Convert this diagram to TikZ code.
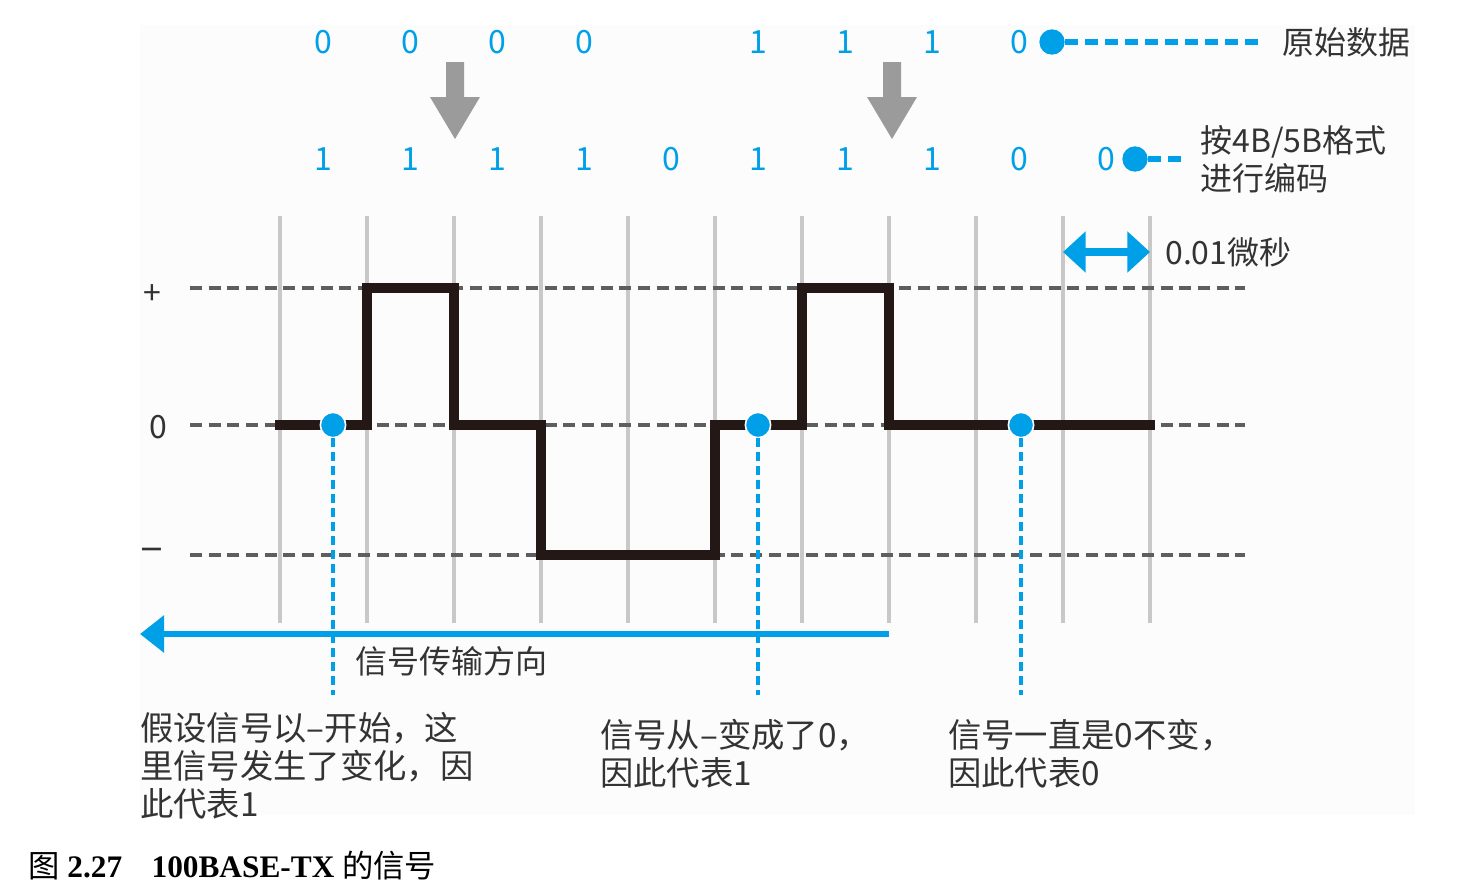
\documentclass[tikz,border=0pt]{standalone}
\usepackage{fontspec}
\setmainfont{Liberation Serif}
\newfontfamily\cjk{Noto Sans CJK SC}
\usetikzlibrary{arrows.meta}
\definecolor{sigblue}{HTML}{00A0E9}
\definecolor{gridgray}{HTML}{C8C8C8}
\definecolor{dashgray}{HTML}{5E5E5E}
\definecolor{arrowgray}{HTML}{9B9B9B}
\definecolor{sigblack}{HTML}{231815}
\definecolor{txt}{HTML}{333333}
\begin{document}
\begin{tikzpicture}[x=0.75pt,y=-0.75pt,
  digit/.style={font=\cjk\fontsize{24}{24}\selectfont, text=sigblue, inner sep=0},
  lbl/.style={font=\cjk\fontsize{24}{28.5}\selectfont, text=txt, inner sep=0, anchor=west, align=left},
  note/.style={font=\cjk\fontsize{25}{28.5}\selectfont, text=txt, inner sep=0, anchor=west, align=left},
  gridline/.style={gridgray, line width=2.6pt},
  levelline/.style={dashgray, line width=2.5pt, dash pattern=on 9pt off 5pt},
  signal/.style={sigblack, line width=7.8pt, miter limit=10},
  bdot/.style={circle, fill=sigblue, draw=white, line width=1.2pt, minimum size=19pt, inner sep=0},
  bdash/.style={sigblue, line width=3.6pt, dash pattern=on 6.5pt off 4pt},
  topdash/.style={sigblue, line width=4.8pt, dash pattern=on 9.5pt off 5.5pt},
  grayarrow/.style={fill=arrowgray}
]
\useasboundingbox (0,0) rectangle (1458,890);
\fill[black!1.2] (140,25) rectangle (1415,815);

% grid
\foreach \i in {0,...,10}
  \draw[gridline] ({280+87*\i},216) -- ({280+87*\i},623);
% level lines
\draw[levelline] (190,288) -- (1245,288);
\draw[levelline] (190,425) -- (1245,425);
\draw[levelline] (190,555) -- (1245,555);
\node[lbl, anchor=center] (lp) at (152,295) {+};
\node[lbl, anchor=center] (l0) at (158,427) {0};
\node[lbl, anchor=center, font=\cjk\fontsize{32}{32}\selectfont] (lm) at (152,555) {–};

% signal
\draw[signal] (275,425) -- (367,425) -- (367,288) -- (454,288) -- (454,425) -- (541,425)
  -- (541,555) -- (715,555) -- (715,425) -- (802,425) -- (802,288) -- (889,288)
  -- (889,425) -- (1155,425);

% top digits
\foreach \i/\d in {0/0,1/0,2/0,3/0,5/1,6/1,7/1,8/0}
  \node[digit] (o\i) at ({323.5+87*\i},42) {\d};
\foreach \i/\d in {0/1,1/1,2/1,3/1,4/0,5/1,6/1,7/1,8/0,9/0}
  \node[digit] (e\i) at ({323.5+87*\i},159) {\d};

\node[bdot, draw=none] (odot) at (1052,42) {};
\coordinate (oend) at (1265,42);
\draw[topdash] (odot.east) -- (oend);
\node[lbl] (otxt) at (1282,42) {原始数据};

\node[bdot, draw=none] (edot) at (1135,159) {};
\coordinate (eend) at (1186,159);
\draw[topdash] (edot.east) -- (eend);
\node[lbl] (etxt) at (1200,159) {按4B/5B格式\\进行编码};

% gray arrows
\fill[grayarrow] (446,62) -- (464,62) -- (464,97) -- (480,97) -- (455,139) -- (430,97) -- (446,97) -- cycle;
\fill[grayarrow] (883,62) -- (901,62) -- (901,97) -- (917,97) -- (892,139) -- (867,97) -- (883,97) -- cycle;

% time unit
\coordinate (tL) at (1063,252);
\coordinate (tR) at (1150,252);
\draw[sigblue, line width=6pt, {Triangle[length=17pt,width=30pt]}-{Triangle[length=17pt,width=30pt]}] (tL) -- (tR);
\node[lbl] (ttxt) at (1165,252) {0.01微秒};

% direction arrow
\coordinate (aS) at (889,634);
\coordinate (aE) at (140,634);
\draw[sigblue, line width=4.8pt, -{Triangle[length=18pt,width=27pt]}] (aS) -- (aE);
\node[lbl] (dtxt) at (355,661) {信号传输方向};

% dots and dashed drops
\node[bdot] (d1) at (333,425) {};
\node[bdot] (d2) at (758,425) {};
\node[bdot] (d3) at (1021,425) {};
\coordinate (d1e) at (333,695);
\coordinate (d2e) at (758,695);
\coordinate (d3e) at (1021,695);
\draw[bdash] (d1.south) -- (d1e);
\draw[bdash] (d2.south) -- (d2e);
\draw[bdash] (d3.south) -- (d3e);

% notes
\node[note] (n1) at (140,766) {假设信号以–开始，这\\里信号发生了变化，因\\此代表1};
\node[note] (n2) at (600,754) {信号从–变成了0，\\因此代表1};
\node[note] (n3) at (948,754) {信号一直是0不变，\\因此代表0};

% caption
\node[inner sep=0, anchor=west, font=\fontsize{23.5}{24}\selectfont] (cap) at (28,866)
  {{\cjk 图} \textbf{2.27}\hspace{22pt}\textbf{100BASE-TX} {\cjk 的信号}};
\end{tikzpicture}
\end{document}
